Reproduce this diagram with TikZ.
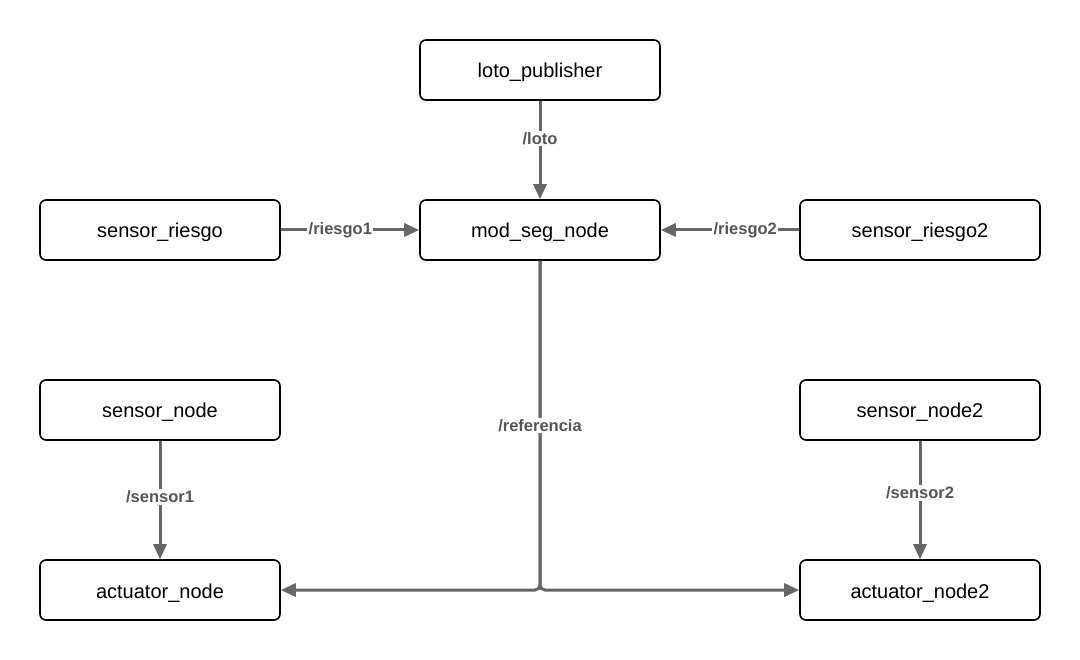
\documentclass[tikz,border=0pt]{standalone}
\usepackage{fontspec}
\setmainfont{Liberation Sans}
\usetikzlibrary{arrows.meta}
\definecolor{conncol}{HTML}{666666}
\definecolor{labcol}{HTML}{555555}
\tikzset{
  box/.style={draw=black, line width=1.6pt, rounded corners=6pt, fill=white,
    minimum width=240pt, minimum height=60pt, inner sep=0pt,
    text height=16pt, text depth=0pt,
    font=\fontsize{20}{24}\selectfont},
  conn/.style={draw=conncol, line width=3pt,
    -{Triangle[length=15pt,width=13pt]}},
  lab/.style={fill=white, text=labcol, inner sep=1.5pt,
    font=\bfseries\fontsize{16.5}{19}\selectfont}
}
\begin{document}
\begin{tikzpicture}[x=1pt,y=-1pt]
\useasboundingbox (0,0) rectangle (1080,660);
\fill[white] (0,0) rectangle (1080,660);
\node[box] (lp) at (540,70) {loto\_publisher};
\node[box] (ms) at (540,230) {mod\_seg\_node};
\node[box] (sr) at (160,230) {sensor\_riesgo};
\node[box] (sr2) at (920,230) {sensor\_riesgo2};
\node[box] (sn) at (160,410) {sensor\_node};
\node[box] (sn2) at (920,410) {sensor\_node2};
\node[box] (an) at (160,590) {actuator\_node};
\node[box] (an2) at (920,590) {actuator\_node2};

\draw[conn] (lp.south) -- node[lab, pos=0.38] {/loto} (ms.north);
\draw[conn] (sr.east) -- node[lab, pos=0.43] {/riesgo1} (ms.west);
\draw[conn] (sr2.west) -- node[lab, pos=0.39] {/riesgo2} (ms.east);
\draw[conn] (sn.south) -- node[lab, pos=0.475] {/sensor1} (an.north);
\draw[conn] (sn2.south) -- node[lab, pos=0.44] {/sensor2} (an2.north);
\draw[conn, rounded corners=5pt] (ms.south) |- (an.east);
\draw[conn, rounded corners=5pt] (ms.south) |- node[lab, pos=0.25] {/referencia} (an2.west);
\end{tikzpicture}
\end{document}
